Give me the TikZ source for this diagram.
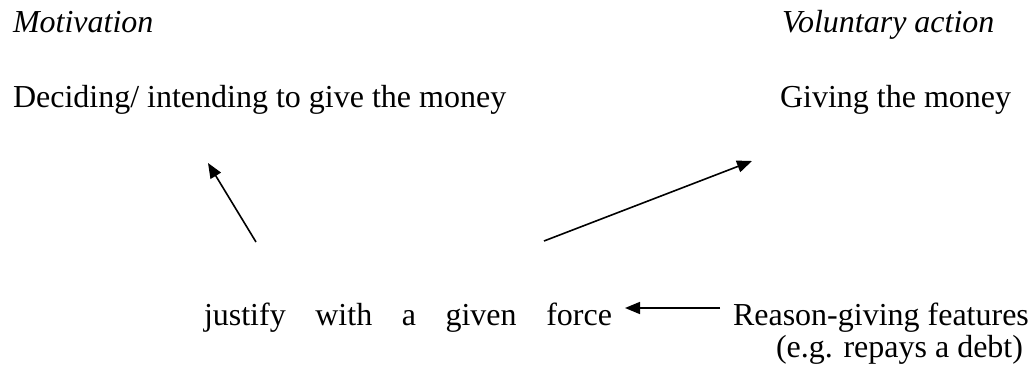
\documentclass[tikz,border=0pt]{standalone}
\usepackage{fontspec}
\setmainfont{Liberation Serif}
\usetikzlibrary{arrows.meta}
\tikzset{
  txt/.style={inner sep=0pt, outer sep=0pt, font=\fontsize{32}{38}\selectfont},
  itxt/.style={txt, font=\fontsize{32}{38}\selectfont\itshape},
  arr/.style={line width=1.6pt, -{Triangle[length=15pt,width=12pt]}}
}
\begin{document}
\begin{tikzpicture}[x=1pt,y=-1pt]
\useasboundingbox (0,0) rectangle (1031,372);
\node[itxt, anchor=base west] (mot) at (13,32) {Motivation};
\node[itxt, anchor=base west] (vol) at (782,32) {Voluntary action};
\node[txt, anchor=base west] (decide) at (13,107) {Deciding/ intending to give the money};
\node[txt, anchor=base west] (give) at (780,107) {Giving the money};
\node[txt, anchor=base west] (justify) at (204,325) {\hbox to 408pt{justify\hfill with\hfill a\hfill given\hfill force}};
\node[txt, anchor=base west] (reason) at (733,325) {Reason-giving features};
\node[txt, anchor=base east] (reason2) at (1023,357) {(e.g. repays a debt)};
\coordinate (a1s) at (256,242);
\coordinate (a1e) at (208,163);
\coordinate (a2s) at (544,241);
\coordinate (a2e) at (752,161);
\coordinate (a3s) at (720,308);
\coordinate (a3e) at (625,308);
\draw[arr] (a1s) -- (a1e);
\draw[arr] (a2s) -- (a2e);
\draw[arr] (a3s) -- (a3e);
\end{tikzpicture}
\end{document}
